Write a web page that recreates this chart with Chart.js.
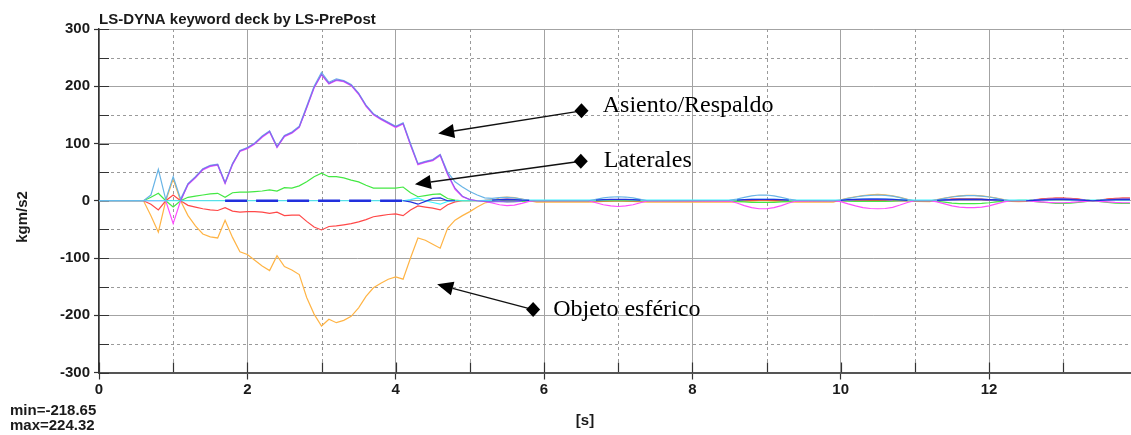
<!DOCTYPE html>
<html>
<head>
<meta charset="utf-8">
<script src="https://cdn.jsdelivr.net/npm/chart.js@4.4.1/dist/chart.umd.min.js"></script>
<style>
  html, body { margin: 0; padding: 0; background: #fff; }
  #wrap { width: 1131px; height: 435px; }
</style>
</head>
<body>
<div id="wrap"><canvas id="grafico" width="1131" height="435"></canvas></div>
<script>
// tiempos [s]: tramo principal y tramo de oscilaciones
const tInicio = [0, 0.6, 0.7, 0.8, 0.9, 1.0, 1.1, 1.2, 1.3, 1.4, 1.5, 1.6, 1.7, 1.8, 1.9, 2.0, 2.1, 2.2, 2.3, 2.4, 2.5, 2.6, 2.7, 2.8, 2.9, 3.0, 3.1, 3.2, 3.3, 3.4, 3.5, 3.6, 3.7, 3.8, 3.9, 4.0, 4.1, 4.2, 4.3, 4.4, 4.5, 4.6, 4.7, 4.8, 4.9, 5.0, 5.1, 5.2, 5.3];
const tFinal = [5.4, 5.5, 5.6, 5.7, 5.8, 5.9,
  6.6, 6.7, 6.8, 6.9, 7.0, 7.1, 7.2, 7.3, 7.4,
  8.5, 8.6, 8.7, 8.8, 8.9, 9.0, 9.1, 9.2, 9.3, 9.4,
  9.9, 10.0, 10.1, 10.2, 10.3, 10.4, 10.5, 10.6, 10.7, 10.8, 10.9, 11.0,
  11.2, 11.3, 11.4, 11.5, 11.6, 11.7, 11.8, 11.9, 12.0, 12.1, 12.2, 12.3, 12.4,
  12.5, 12.6, 12.7, 12.8, 12.9, 13.0, 13.1, 13.2, 13.3, 13.4, 13.5, 13.6, 13.7, 13.8, 13.9];

// Asiento/Respaldo (tres curvas casi superpuestas)
const cieloInicio = [0, 0, 10, 55, 2, 42, 3, 30, 42, 56, 62, 64, 32, 65, 88, 93, 101, 113, 122, 95, 114, 120, 130, 165, 200, 224.3, 207, 213, 210, 203, 188, 167, 152, 144, 137, 130, 136, 100, 65, 69, 72, 81, 50, 33, 24, 16, 10, 5, 4];
const cieloFinal = [5.5, 6, 5, 3, 0.5, 0,
  0, 2.5, 5, 6.5, 7, 6.5, 5, 2.5, 0,
  0.5, 3, 6, 8.5, 10, 10, 8.5, 6, 3, 0.5,
  0, 1, 4, 6.5, 8.5, 9.5, 10, 9.5, 8, 5.5, 2, 0,
  0, 1.5, 4, 6.5, 8, 9, 9, 8, 6.5, 4, 1.5, 0, 0,
  0, 1, 2, 2.5, 3, 3, 2.5, 2, 1, 0, 1, 2, 2.5, 3, 3];
const magentaInicio = [0, 0, 0, 0, 0, -40, 0, 28, 40, 54, 60, 62, 30, 63, 86, 91, 99, 111, 120, 93, 112, 118, 128, 162, 197, 220, 204, 210, 208, 201, 186, 165, 150, 142, 135, 128, 134, 97, 63, 67, 70, 79, 46, 20, 7, 2, 0, -1, -4];
const magentaFinal = [-7, -8.5, -7.5, -4.5, -1, 0,
  0, -3.5, -7, -9, -10, -9, -7, -3.5, 0,
  -0.5, -4, -8.5, -12, -14, -14, -12, -8.5, -4, -0.5,
  0, -1.5, -5.5, -9, -12, -13.5, -14, -13.5, -11.5, -7.5, -3, 0,
  0, -2, -5.5, -9, -11, -12, -12, -11, -9, -5.5, -2, 0, 0,
  0, -1, -2, -3, -3.5, -3.5, -3, -2, -1, 0, -1, -2, -3, -3.5, -3.5];
const violetaInicio = [null, null, null, null, null, null, 0, 29, 41, 55, 61, 63, 31, 64, 87, 92, 100, 112, 121, 94, 113, 119, 129, 163, 198, 221, 205, 211, 209, 202, 187, 166, 151, 143, 136, 129, 135, 98, 64, 68, 71, 80, 47, 22, 8, 2, 0, -1, -2];
const violetaFinal = [-1, -2, -1.5, -0.5, null, null,
  null, null, null, null, null, null, null, null, null,
  null, null, null, null, null, null, null, null, null, null,
  null, null, 1, 2, 2, 2.5, 2.5, 2, 1, null, null, null,
  null, null, 1, 1.5, 2, 2, 2, 2, 1.5, 1, null, null, null,
  null, 1, 2, 3, 3.5, 3.5, 3, 2, 1, null, null, 1.5, 2.5, 3, 3];

// Laterales
const verdeInicio = [0, 0, 6, 13, 0, -11, 0, 6, 8, 10, 12, 13, 6, 14, 15, 15, 16, 17, 19, 17, 23, 22, 26, 33, 42, 48, 42, 42, 40, 36, 33, 27, 22, 22, 22, 22, 24, 14, 7, 9, 11, 12, 4, 1, 0, 0, 0, -0.5, -1];
const verdeFinal = [-1, -1.5, -1.5, -1, -0.5, 0,
  0, 0, 0, 0, 0, 0, 0, 0, 0,
  0, -1, -2, -3, -3, -3, -3, -2, -1, 0,
  0, 0, -0.5, -1, -1, -1, -1, -1, -0.5, 0, 0, 0,
  0, -1, -2.5, -4, -5, -5, -5, -4.5, -3.5, -2, -0.5, 0, 0.5,
  0.5, -1, -2.5, -3.5, -4.5, -4.5, -4, -3, -1.5, 0, -1.5, -3, -4, -4.5, -4.5];
const rojoInicio = [0, 0, -6, -16, 0, 10, 0, -8, -11, -14, -16, -17, -12, -18, -20, -19, -19, -20, -22, -20, -26, -25, -25, -36, -46, -51, -45, -44, -42, -40, -37, -33, -28, -26, -24, -23, -26, -16, -9, -11, -13, -16, -7, -2, 0, 0, 0, 0.5, 1.5];
const rojoFinal = [2, 3, 2.5, 1.5, 0.5, 0,
  0, 0, 0, 0, 0, 0, 0, 0, 0,
  0, 0, 0.5, 1, 1.5, 1.5, 1.5, 1, 0.5, 0,
  0, 0, 0.5, 1, 1, 1, 1, 1, 0.5, 0, 0, 0,
  0, 1, 2, 3, 3.5, 3.5, 3.5, 3, 2, 1, 0, 0, 0,
  0, 1.5, 3, 4, 4.5, 4.5, 4, 3, 1.5, 0, 1.5, 3, 4, 4.5, 4.5];
const rojoOscuroFinal = [0, 1, 1, 0.5, 0, 0,
  0, 0, 0, 0, 0, 0, 0, 0, 0,
  0, 0, 0.5, 1.5, 2, 2, 1.5, 0.5, 0, 0,
  0, 0, 0, 0, 0, 0, 0, 0, 0, 0, 0, 0,
  0, 0, 1, 2.5, 3, 3, 3, 2.5, 1, 0, 0, 0, 0,
  0, 1, 2.5, 3.5, 4, 4, 3.5, 2.5, 1, 0, 1, 2.5, 3.5, 4, 4];

// Objeto esférico
const naranjaInicio = [0, 0, -26, -55, 0, 38, 0, -26, -44, -58, -63, -65, -34, -64, -89, -94, -104, -114, -122, -96, -115, -121, -129, -169, -198, -218.7, -207, -213, -209, -202, -187, -167, -152, -144, -137, -133, -137, -100, -65, -69, -76, -83, -48, -34, -26, -19, -11, -4, -1];
const naranjaFinal = [5.5, 6.5, 5.5, 3, 0, -2.5,
  -2.5, -2, -1, -0.5, 0, -0.5, -1, -2, -2.5,
  -2.5, -2, -1, -0.5, 0, 0, -0.5, -1, -2, -2.5,
  -2.5, 1.5, 4.5, 7, 9, 10.5, 11, 10.5, 8.5, 6, 2.5, -1,
  -1.5, 2, 4.5, 7, 8.5, 9.5, 9.5, 8.5, 7, 4.5, 2, -1, -1.5,
  -1, 1.5, 2.5, 3, 3.5, 3.5, 3, 2.5, 1.5, -0.5, 1.5, 2.5, 3, 3.5, 3.5];

// curvas cercanas a cero
const cianInicio = [0, 0, 0, 0, 0, 0, 0, 0, 0, 0, 0, 0, 0, 0, 0, 0, 0, 0, 0, 0, 0, 0, 0, 0, 0, 0, 0, 0, 0, 0, 0, 0, 0, 0, 0, 0, 0, 2, 5, 0, -3, -6, -1, 0, 0, 0, 0, 0.5, 1];
const cianFinal = [1.5, 2, 1.5, 1.2, 1.2, 1.2,
  1.2, 1.2, 1.5, 2, 2, 2, 1.5, 1.2, 1.2,
  1.2, 1.5, 2, 2.5, 2.5, 2.5, 2.5, 2, 1.5, 1.2,
  1.2, 1.2, 2, 2.5, 3, 3.5, 3.5, 3, 2.5, 2, 1.5, 1.2,
  1.2, 1.2, 1.5, 2, 2.5, 2.5, 2.5, 2.5, 2, 1.5, 1.2, 1.2, 1.2,
  1.2, 1.2, 1.5, 1.5, 2, 2, 1.5, 1.5, 1.2, 1.2, 1.2, 1.5, 1.5, 1.5, 1.5];
const azulInicio = [null, null, null, null, null, null, null, null, null, null, null, null, 0, 0, 0, 0, 0, 0, 0, 0, 0, 0, 0, 0, 0, 0, 0, 0, 0, 0, 0, 0, 0, 0, 0, 0, 0, -2, -6, -1, 4, 5, 0, 0, null, null, null, null, 1];
const azulFinal = [2, 2.5, 2, 1, 0.5, null,
  null, 1, 2, 2.5, 2.5, 2.5, 2, 1, null,
  null, 1, 2, 2.5, 2.5, 2.5, 2.5, 2, 1, null,
  null, 0.5, 2, 2.5, 3, 3, 3, 3, 2.5, 1.5, 0.5, null,
  null, 0.5, 1.5, 2, 2.5, 2.5, 2.5, 2.5, 2, 1.5, 0.5, null, null,
  0, 0.5, 1.5, 2, 2.5, 2.5, 2, 1.5, 0.5, 0, 0.5, 1.5, 2, 2, 2];

// ejes
const ticksX = [0, 2, 4, 6, 8, 10, 12];
const menoresX = [1, 3, 5, 7, 9, 11, 13];
const ticksY = [-300, -200, -100, 0, 100, 200, 300];
const menoresY = [-250, -150, -50, 50, 150, 250];

const titulo = 'LS-DYNA keyword deck by LS-PrePost';
const textoMin = 'min=-218.65';
const textoMax = 'max=224.32';

// flechas de las notas, en unidades de los ejes
const anotaciones = [
  { texto: 'Asiento/Respaldo', rombo: [6.505, 157], punta: [4.573, 117.5], pos: [6.792, 154.8] },
  { texto: 'Laterales', rombo: [6.496, 69], punta: [4.259, 28.9], pos: [6.806, 58.6] },
  { texto: 'Objeto esférico', rombo: [5.853, -190], punta: [4.559, -146], pos: [6.123, -202] }
];

const tTodo = tInicio.concat(tFinal);

function puntos(tiempos, valores) {
  return tiempos.map((t, i) => ({ x: t, y: valores[i] }));
}

function serie(datos, color, extra) {
  return Object.assign({
    data: datos,
    borderColor: color,
    borderWidth: 1.2,
    pointRadius: 0,
    fill: false,
    tension: 0
  }, extra || {});
}

const fuenteEje = { family: '"Liberation Sans", Arial, sans-serif', size: 15, weight: 'bold' };

const rejillaMenor = {
  id: 'rejillaMenor',
  beforeDatasetsDraw(chart) {
    const { ctx, chartArea: a, scales: { x, y } } = chart;
    ctx.save();
    ctx.strokeStyle = '#9a9a9a';
    ctx.lineWidth = 1;
    ctx.setLineDash([3, 3]);
    ctx.beginPath();
    menoresX.forEach(v => {
      const px = Math.round(x.getPixelForValue(v)) + 0.5;
      ctx.moveTo(px, a.top);
      ctx.lineTo(px, a.bottom);
    });
    menoresY.forEach(v => {
      const py = Math.round(y.getPixelForValue(v)) + 0.5;
      ctx.moveTo(a.left, py);
      ctx.lineTo(a.right, py);
    });
    ctx.stroke();
    ctx.setLineDash([]);
    ctx.strokeStyle = '#333';
    ctx.lineWidth = 1.2;
    ctx.beginPath();
    ticksX.concat(menoresX).forEach(v => {
      const px = Math.round(x.getPixelForValue(v)) + 0.5;
      ctx.moveTo(px, a.bottom);
      ctx.lineTo(px, a.bottom - 10);
    });
    ticksY.concat(menoresY).forEach(v => {
      const py = Math.round(y.getPixelForValue(v)) + 0.5;
      ctx.moveTo(a.left, py);
      ctx.lineTo(a.left + 10, py);
    });
    ctx.stroke();
    ctx.restore();
  }
};

const textos = {
  id: 'textos',
  afterDraw(chart) {
    const { ctx, chartArea: a, scales: { x, y } } = chart;
    ctx.save();
    ctx.fillStyle = '#1a1a1a';
    ctx.font = 'bold 15px "Liberation Sans", Arial, sans-serif';
    ctx.textAlign = 'left';
    ctx.textBaseline = 'alphabetic';
    ctx.fillText(titulo, a.left, a.top - 5);
    ctx.fillText(textoMin, 10, 415);
    ctx.fillText(textoMax, 10, 430);
    ctx.textAlign = 'center';
    ctx.fillText('[s]', 585, 425);
    ctx.save();
    ctx.translate(23, 217);
    ctx.rotate(-Math.PI / 2);
    ctx.textBaseline = 'middle';
    ctx.fillText('kgm/s2', 0, 0);
    ctx.restore();

    // notas con flecha
    ctx.strokeStyle = '#111';
    ctx.fillStyle = '#000';
    ctx.lineWidth = 1.3;
    anotaciones.forEach(n => {
      const x0 = x.getPixelForValue(n.rombo[0]), y0 = y.getPixelForValue(n.rombo[1]);
      const x1 = x.getPixelForValue(n.punta[0]), y1 = y.getPixelForValue(n.punta[1]);
      const ang = Math.atan2(y1 - y0, x1 - x0);
      const c = Math.cos(ang), s = Math.sin(ang);
      const largo = 16, ancho = 7;
      const bx = x1 - largo * c, by = y1 - largo * s;
      ctx.beginPath();
      ctx.moveTo(x0, y0);
      ctx.lineTo(bx, by);
      ctx.stroke();
      ctx.beginPath();
      ctx.moveTo(x1, y1);
      ctx.lineTo(bx - ancho * s, by + ancho * c);
      ctx.lineTo(bx + ancho * s, by - ancho * c);
      ctx.closePath();
      ctx.fill();
      ctx.beginPath();
      ctx.moveTo(x0 - 7, y0);
      ctx.lineTo(x0, y0 - 7.5);
      ctx.lineTo(x0 + 7, y0);
      ctx.lineTo(x0, y0 + 7.5);
      ctx.closePath();
      ctx.fill();
      ctx.font = '24px "Liberation Serif", "Times New Roman", serif';
      ctx.textAlign = 'left';
      ctx.textBaseline = 'alphabetic';
      ctx.fillText(n.texto, x.getPixelForValue(n.pos[0]), y.getPixelForValue(n.pos[1]));
    });
    ctx.restore();
  }
};

new Chart(document.getElementById('grafico'), {
  type: 'line',
  data: {
    datasets: [
      serie(puntos(tTodo, azulInicio.concat(azulFinal)), '#2230dd', {
        segment: {
          borderDash: c => (c.p0.parsed.x >= 1.65 && c.p1.parsed.x <= 4.15) ? [22, 9] : undefined,
          borderWidth: c => (c.p0.parsed.x >= 1.65 && c.p1.parsed.x <= 4.15) ? 2.6 : undefined
        }
      }),
      serie(puntos(tTodo, violetaInicio.concat(violetaFinal)), '#9060f0'),
      serie(puntos(tTodo, cieloInicio.concat(cieloFinal)), '#68b4e6'),
      serie(puntos(tTodo, cianInicio.concat(cianFinal)), '#40f4ff'),
      serie(puntos(tTodo, magentaInicio.concat(magentaFinal)), '#ff4cff'),
      serie(puntos(tTodo, verdeInicio.concat(verdeFinal)), '#44e844'),
      serie(puntos(tTodo, rojoInicio.concat(rojoFinal)), '#ff4848'),
      serie(puntos(tFinal, rojoOscuroFinal), '#b00000'),
      serie(puntos(tTodo, naranjaInicio.concat(naranjaFinal)), '#ffb445')
    ]
  },
  options: {
    responsive: false,
    devicePixelRatio: 1,
    animation: false,
    layout: { padding: { top: 29, left: 0, right: 0, bottom: 0 } },
    plugins: { legend: { display: false }, tooltip: { enabled: false } },
    scales: {
      x: {
        type: 'linear',
        min: 0,
        max: 13.914,
        afterBuildTicks: s => { s.ticks = ticksX.map(v => ({ value: v })); },
        afterFit: s => { s.height = 62.5; },
        grid: { color: '#a3a3a3', lineWidth: 1, tickLength: 7, tickColor: '#333', tickWidth: 1.2 },
        border: { color: '#555', width: 2 },
        ticks: { font: fuenteEje, color: '#1a1a1a', padding: 1, maxRotation: 0, autoSkip: false }
      },
      y: {
        type: 'linear',
        min: -300,
        max: 300,
        afterBuildTicks: s => { s.ticks = ticksY.map(v => ({ value: v })); },
        afterFit: s => { s.width = 99; },
        grid: { color: '#a3a3a3', lineWidth: 1, tickLength: 5, tickColor: '#333', tickWidth: 1.2 },
        border: { color: '#333', width: 1.5 },
        ticks: { font: fuenteEje, color: '#1a1a1a', padding: 4 }
      }
    }
  },
  plugins: [rejillaMenor, textos]
});
</script>
</body>
</html>
